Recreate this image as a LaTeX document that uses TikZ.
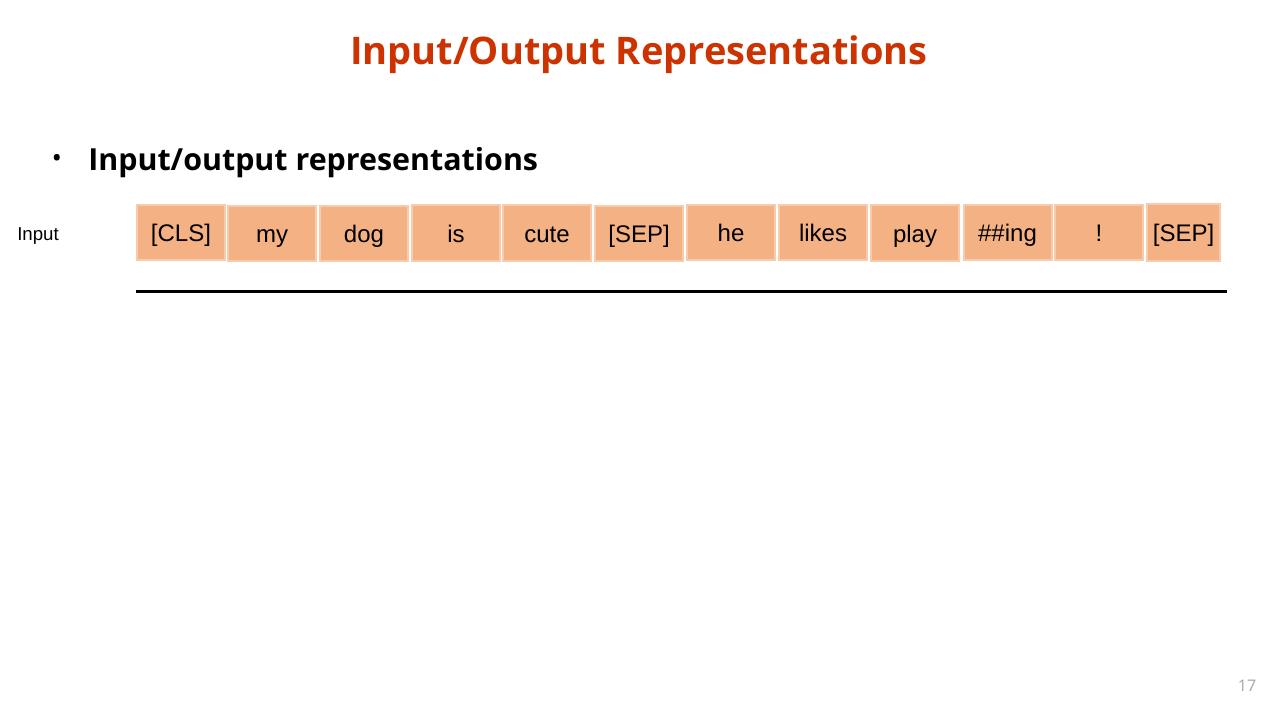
\documentclass[tikz,border=0pt]{standalone}
\usepackage{fontspec}
\newfontfamily\arialf{Liberation Sans}
\newfontfamily\headf{Open Sans}
\definecolor{titlered}{HTML}{CC3300}
\definecolor{tokfill}{HTML}{F4B183}
\definecolor{tokedge}{HTML}{F8CBAD}
\definecolor{pagegray}{HTML}{A6A6A6}
\begin{document}
\begin{tikzpicture}[x=0.75pt,y=-0.75pt,
  tok/.style={draw=tokedge, fill=tokfill, line width=1.5pt, inner sep=0pt,
    minimum width=66pt, minimum height=41.25pt, font=\arialf\fontsize{18}{20}\selectfont,
    text=black, text height=14pt, text depth=0pt},
  titletext/.style={font=\headf\bfseries\fontsize{28.5}{32}\selectfont, text=titlered, inner sep=0pt},
  bullettext/.style={font=\headf\bfseries\fontsize{22.8}{26}\selectfont, inner sep=0pt},
  bulletdot/.style={font=\headf\bfseries\fontsize{16}{18}\selectfont, inner sep=0pt},
  rowlabel/.style={font=\arialf\fontsize{14}{16}\selectfont, inner sep=0pt},
  pagenum/.style={font=\headf\fontsize{12}{14}\selectfont, text=pagegray, inner sep=0pt}]
\useasboundingbox[fill=white] (0,0) rectangle (1280,720);

% heading
\node[titletext, anchor=base] (title) at (639,65) {Input/Output Representations};

% bullet line
\node[bulletdot] (dot) at (57,160) {\textbullet};
\node[bullettext, anchor=base west] (bullet) at (88,171) {Input/output representations};

% row label
\node[rowlabel, anchor=base west] (inlabel) at (17,241) {Input};

% token boxes
\node[tok] (t1)  at (181,232.5)   {[CLS]};
\node[tok] (t2)  at (272,233.5)   {my};
\node[tok] (t3)  at (364,233.5)   {dog};
\node[tok] (t4)  at (456,233)     {is};
\node[tok] (t5)  at (547,233)     {cute};
\node[tok] (t6)  at (639,233.5)   {[SEP]};
\node[tok] (t7)  at (731,232.5)   {he};
\node[tok] (t8)  at (823,232.5)   {likes};
\node[tok] (t9)  at (915,233)     {play};
\node[tok] (t10) at (1007.5,232.5){\#\#ing};
\node[tok] (t11) at (1099,232.5)  {!};
\node[tok, minimum width=54.75pt, minimum height=42.75pt] (t12) at (1183.5,232.5) {[SEP]};

% rule under the sequence
\coordinate (ruleL) at (136,291);
\coordinate (ruleR) at (1227,291);
\draw[line width=2.25pt] (ruleL) -- (ruleR);

% page number
\node[pagenum] (page) at (1247,686) {17};
\end{tikzpicture}
\end{document}
